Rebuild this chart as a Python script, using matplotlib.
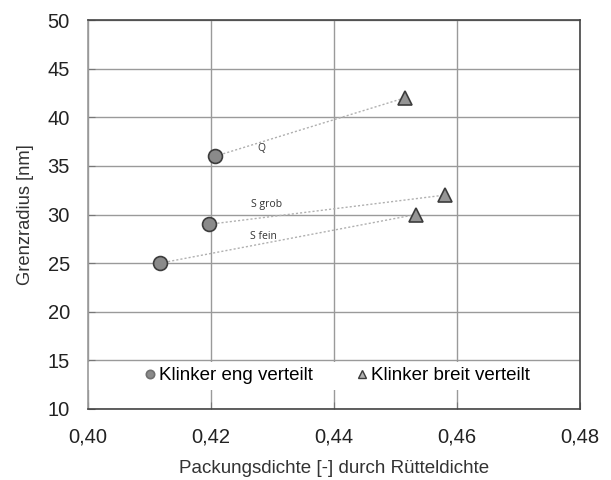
import matplotlib.pyplot as plt
import matplotlib.ticker as mticker

plt.rcParams['font.family'] = ['Liberation Sans', 'DejaVu Sans']

# Klinker eng verteilt (Kreise) und breit verteilt (Dreiecke)
eng_x = [0.4117, 0.4197, 0.4207]
eng_y = [25, 29, 36]
breit_x = [0.4533, 0.4580, 0.4515]
breit_y = [30, 32, 42]
serien = ['S fein', 'S grob', 'Q']
label_pos = [(0.4285, 27.7), (0.4291, 31.0), (0.4282, 36.8)]

fig = plt.figure(figsize=(6.11, 4.8), dpi=100)
ax = fig.add_axes([0.144, 0.148, 0.805, 0.81])

for x0, y0, x1, y1 in zip(eng_x, eng_y, breit_x, breit_y):
    ax.plot([x0, x1], [y0, y1], ls=(0, (1.5, 1.5)), color='#b0b0b0', lw=1, zorder=2)

ax.plot(eng_x, eng_y, 'o', ms=10, mfc='#8a8a8a', mec='#3c3c3c', mew=1.2,
        ls='none', zorder=3)
ax.plot(breit_x, breit_y, '^', ms=10, mfc='#959595', mec='#3c3c3c', mew=1.2,
        ls='none', zorder=3)

for name, (lx, ly) in zip(serien, label_pos):
    ax.text(lx, ly, name, fontsize=7.5, ha='center', va='center',
            family=['Open Sans', 'DejaVu Sans'], color='#333333')

ax.set_xlim(0.40, 0.48)
ax.set_ylim(10, 50)
ax.set_xticks([0.40, 0.42, 0.44, 0.46, 0.48])
ax.set_yticks(range(10, 51, 5))
ax.xaxis.set_major_formatter(mticker.FuncFormatter(lambda v, p: f'{v:.2f}'.replace('.', ',')))
ax.tick_params(axis='both', direction='in', length=5, color='#777777',
               labelsize=14.5, labelcolor='#222222', pad=13)
ax.grid(True, color='#9a9a9a', lw=1)
ax.set_axisbelow(True)
ax.spines['left'].set_color('#999999')
for side in ['right', 'bottom', 'top']:
    ax.spines[side].set_color('#444444')
for s in ax.spines.values():
    s.set_linewidth(1.2)

ax.set_xlabel('Packungsdichte [-] durch Rütteldichte', fontsize=13.5, color='#333333', labelpad=10)
ax.set_ylabel('Grenzradius [nm]', fontsize=13.2, color='#333333', labelpad=10)

# weisser Streifen hinter der Legende
ax.axhspan(11.95, 14.8, color='white', zorder=1, lw=0)

h1, = ax.plot([], [], 'o', mfc='#8a8a8a', mec='#707070', mew=1.2, ms=6)
h2, = ax.plot([], [], '^', mfc='#b0b0b0', mec='#3c3c3c', mew=1.0, ms=6)
ax.legend([h1, h2], ['Klinker eng verteilt', 'Klinker breit verteilt'],
          loc='center', bbox_to_anchor=(0.504, 0.085), ncol=2, frameon=False,
          fontsize=13.5, handletextpad=0.1, columnspacing=2.2, handlelength=0.8,
          borderpad=0.2)

fig.savefig('out.png', dpi=100)
